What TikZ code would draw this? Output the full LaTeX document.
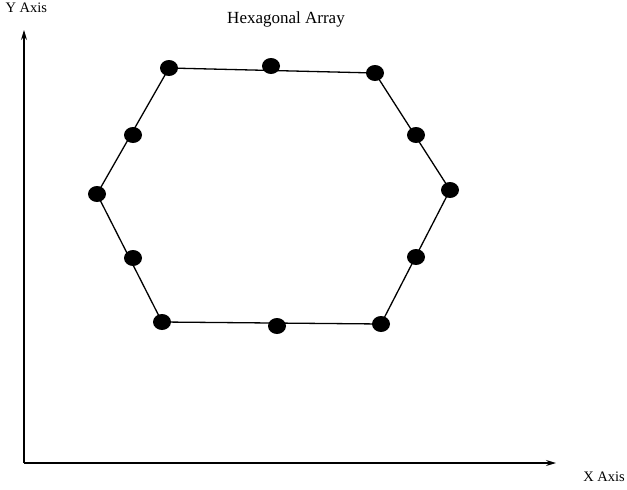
\documentclass[tikz,border=0pt]{standalone}
\usepackage{fontspec}
\setmainfont{Liberation Serif}
\usetikzlibrary{positioning,shapes.geometric,arrows.meta}
\tikzset{
  dot/.style={ellipse,fill=black,inner sep=0pt,minimum width=18pt,minimum height=16pt},
  axis/.style={line width=1.2pt,-{Stealth[length=10pt,width=6pt]}},
  edge/.style={line width=1.3pt}
}

\begin{document}
\begin{tikzpicture}[x=1pt,y=-1pt]
			\useasboundingbox (0,0) rectangle (627,490);
			\node at (286,19) {\fontsize{17}{20}\selectfont Hexagonal Array};
			\node[anchor=west] at (2,8) {\fontsize{14.5}{16}\selectfont Y Axis};
			\node at (604,477) {\fontsize{14.5}{16}\selectfont X Axis};
			% axes
			\coordinate (origin) at (24,463);
			\coordinate (ytip) at (24,30);
			\coordinate (xtip) at (556,463);
			\draw[axis] (origin) -- (ytip);
			\draw[axis] (origin) -- (xtip);
			% corner dots
			\node[dot] (tl) at (169,68) {};
			\node[dot] (tr) at (375,73) {};
			\node[dot] (r) at (450,190) {};
			\node[dot] (br) at (381,324) {};
			\node[dot] (bl) at (162,322) {};
			\node[dot] (l) at (97,194) {};
			% edge dots
			\node[dot] (t) at (271,66) {};
			\node[dot] (ur) at (416,135) {};
			\node[dot] (lr) at (416,257) {};
			\node[dot] (b) at (277,326) {};
			\node[dot] (ll) at (133,258) {};
			\node[dot] (ul) at (133,135) {};
			\begin{scope}[edge]
			\draw (tl.center) -- (tr.center) -- (r.center) -- (br.center)
			  -- (bl.center) -- (l.center) -- cycle;
			\end{scope}
\end{tikzpicture}
\end{document}
